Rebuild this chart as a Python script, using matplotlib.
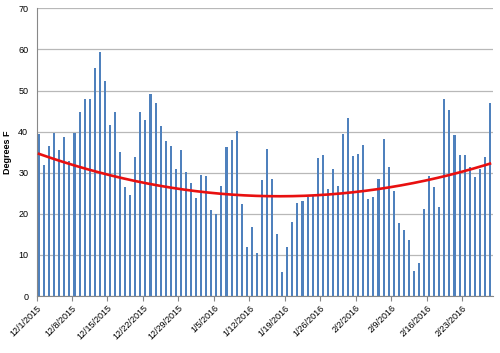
import numpy as np
import matplotlib
matplotlib.use("Agg")
import matplotlib.pyplot as plt

temps = [39.4, 31.9, 36.4, 39.7, 35.6, 38.8, 32.8, 39.7, 44.8, 47.9,
         48.0, 55.4, 59.3, 52.4, 41.5, 44.8, 35.1, 26.5, 24.6, 33.9,
         44.8, 42.9, 49.2, 47.0, 41.4, 37.8, 36.5, 31.0, 35.5, 30.2,
         27.6, 23.8, 29.4, 29.3, 20.9, 20.0, 26.7, 36.3, 37.9, 40.1,
         22.4, 11.9, 16.8, 10.5, 28.2, 35.7, 28.4, 15.2, 5.9, 11.9,
         17.9, 22.6, 23.2, 24.0, 24.5, 33.6, 34.4, 26.1, 30.9, 26.8,
         39.3, 43.2, 34.1, 34.5, 36.7, 23.7, 24.2, 28.4, 38.3, 31.5,
         25.6, 17.8, 16.1, 13.6, 6.0, 8.0, 21.2, 29.1, 26.6, 21.7,
         48.0, 45.3, 39.2, 34.2, 34.4, 31.4, 28.9, 30.8, 33.7, 47.0]

# trendline (2nd-order polynomial) values at some day indices
trend_days = [0, 30, 46, 64, 79, 89]
trend_vals = [34.5, 26.0, 24.1, 25.1, 29.4, 32.0]

tick_labels = ["12/1/2015", "12/8/2015", "12/15/2015", "12/22/2015", "12/29/2015",
               "1/5/2016", "1/12/2016", "1/19/2016", "1/26/2016", "2/2/2016",
               "2/9/2016", "2/16/2016", "2/23/2016"]
y_ticks = [0, 10, 20, 30, 40, 50, 60, 70]

plt.rcParams['font.family'] = ['Liberation Sans', 'DejaVu Sans']

fig = plt.figure(figsize=(5.0, 3.53), dpi=100)
ax = fig.add_axes([36.5/500, 1 - 296/353, (492.5-36.5)/500, (296-8.3)/353])

x = np.arange(len(temps))
ax.bar(x, temps, width=0.42, color="#4F81BD", zorder=2)

coef = np.polyfit(trend_days, trend_vals, 2)
xt = np.linspace(x[0], x[-1], 300)
ax.plot(xt, np.polyval(coef, xt), color="#E81010", linewidth=1.9, zorder=3)

ax.set_xlim(-0.5, len(temps) - 0.5)
ax.set_ylim(0, 70)
ax.set_yticks(y_ticks)
ax.set_yticklabels([str(v) for v in y_ticks], fontsize=6.5)
tick_pos = [i * 7 - 0.5 for i in range(len(tick_labels))]
ax.set_xticks(tick_pos)
ax.set_xticklabels(tick_labels, rotation=45, ha="right", rotation_mode="anchor", fontsize=6.5)
ax.tick_params(axis="x", length=3.5, color="#888888", pad=2)
ax.tick_params(axis="y", length=0, pad=6)

ax.yaxis.grid(True, color="#B8B8B8", linewidth=0.9, zorder=0)
ax.set_axisbelow(True)
for s in ["top", "right"]:
    ax.spines[s].set_visible(False)
ax.spines["left"].set_color("#888888")
ax.spines["bottom"].set_color("#888888")
ax.set_ylabel("Degrees F", fontsize=6.5, fontweight="bold", labelpad=4)

fig.savefig("out.png", dpi=100)
